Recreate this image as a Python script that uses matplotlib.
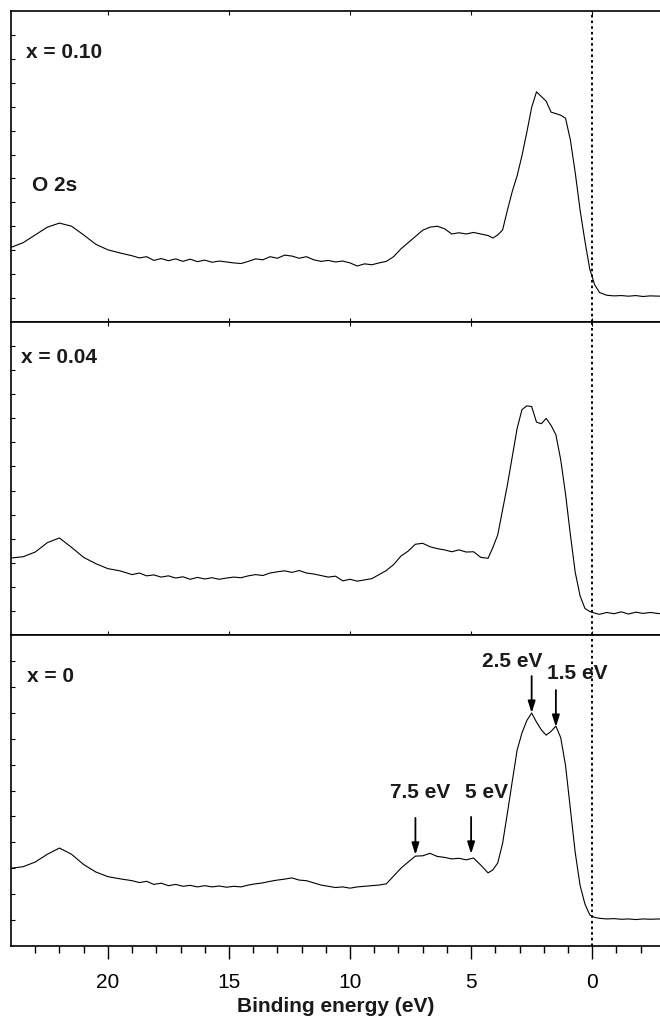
import numpy as np
import matplotlib
matplotlib.use('Agg')
import matplotlib.pyplot as plt

plt.rcParams['font.family'] = ['Liberation Sans', 'DejaVu Sans']

# binding energy grid (eV), shared by the three spectra
energy = [24.0, 23.5, 23.0, 22.5, 22.0, 21.5, 21.0, 20.5, 20.0, 19.5, 19.0,
          18.7, 18.4, 18.1, 17.8, 17.5, 17.2, 16.9, 16.6, 16.3, 16.0,
          15.7, 15.4, 15.1, 14.8, 14.5, 14.2, 13.9, 13.6, 13.3, 13.0,
          12.7, 12.4, 12.1, 11.8, 11.5, 11.2, 10.9, 10.6, 10.3, 10.0,
          9.7, 9.4, 9.1, 8.8, 8.5, 8.2, 7.9, 7.6, 7.3, 7.0,
          6.7, 6.4, 6.1, 5.8, 5.5, 5.2, 4.9, 4.6, 4.3, 4.1,
          3.9, 3.7, 3.5, 3.3, 3.1, 2.9, 2.7, 2.5, 2.3, 2.1,
          1.9, 1.7, 1.5, 1.3, 1.1, 0.9, 0.7, 0.5, 0.3, 0.1,
          -0.1, -0.3, -0.6, -0.9, -1.2, -1.5, -1.8, -2.1, -2.4, -2.8]

# intensities (arb. units, 0-100 per panel)
x010 = [24.0, 25.5, 28.0, 30.5, 31.8, 30.8, 28.0, 25.0, 23.2, 22.2, 21.3,
        20.6, 21.0, 19.8, 20.4, 19.7, 20.3, 19.5, 20.2, 19.4, 19.9,
        19.2, 19.6, 19.3, 19.0, 18.8, 19.5, 20.3, 20.0, 21.0, 20.5,
        21.5, 21.2, 20.5, 21.0, 20.0, 19.5, 19.8, 19.3, 19.6, 19.0,
        18.0, 18.7, 18.4, 19.0, 19.5, 21.0, 23.5, 25.5, 27.5, 29.5,
        30.5, 30.8, 30.0, 28.3, 28.7, 28.3, 28.8, 28.3, 27.8, 27.0,
        28.0, 29.6, 36.0, 42.0, 47.0, 53.5, 61.0, 69.0, 74.0, 72.5,
        71.0, 67.5, 67.0, 66.5, 65.5, 58.5, 48.0, 36.0, 26.0, 17.0,
        12.0, 9.5, 8.6, 8.4, 8.5, 8.3, 8.5, 8.2, 8.4, 8.3]

x004 = [24.6, 25.0, 26.5, 29.5, 31.0, 28.0, 24.8, 22.8, 21.2, 20.5, 19.3,
        19.8, 18.9, 19.2, 18.5, 18.9, 18.2, 18.6, 17.8, 18.4, 17.9,
        18.3, 17.8, 18.2, 18.5, 18.3, 18.9, 19.3, 19.0, 19.8, 20.2,
        20.5, 20.0, 20.6, 19.8, 19.5, 19.0, 18.5, 18.8, 17.3, 17.8,
        17.2, 17.6, 18.0, 19.3, 20.6, 22.5, 25.2, 26.8, 29.0, 29.3,
        28.2, 27.6, 27.2, 26.6, 27.2, 26.5, 26.6, 24.8, 24.5, 28.0,
        32.0, 40.0, 48.0, 57.0, 66.0, 72.0, 73.2, 73.0, 68.0, 67.5,
        69.2, 67.0, 64.0, 56.0, 45.0, 32.0, 20.0, 12.5, 8.5, 7.5,
        7.0, 6.6, 7.2, 6.8, 7.4, 6.7, 7.3, 6.9, 7.2, 6.8]

x000 = [25.0, 25.5, 27.0, 29.5, 31.5, 29.5, 26.2, 23.8, 22.3, 21.6, 21.0,
        20.4, 20.8, 19.8, 20.2, 19.4, 19.8, 19.2, 19.5, 19.0, 19.4,
        19.0, 19.3, 18.9, 19.2, 19.0, 19.6, 20.0, 20.3, 20.8, 21.2,
        21.5, 21.9, 21.2, 21.0, 20.3, 19.6, 19.2, 18.8, 19.0, 18.6,
        19.0, 19.2, 19.4, 19.6, 20.0, 22.5, 25.0, 27.0, 28.9, 29.0,
        29.8, 28.8, 28.5, 28.0, 28.2, 27.7, 28.3, 26.0, 23.5, 24.5,
        26.7, 33.0, 42.8, 53.0, 63.0, 68.5, 72.5, 74.9, 72.0, 69.5,
        67.8, 69.0, 70.7, 67.0, 58.0, 44.0, 30.0, 19.5, 13.5, 10.0,
        9.2, 8.9, 8.7, 8.8, 8.6, 8.7, 8.5, 8.7, 8.6, 8.7]

labels = ['x = 0.10', 'x = 0.04', 'x = 0']
spectra = [x010, x004, x000]
label_pos = [(23.4, 86.5), (23.6, 88.5), (23.35, 86.5)]
n_yticks = [13, 13, 12]

# peak markers for x = 0: (label, text x, text y, arrow x, arrow top, arrow tip)
peaks = [('2.5 eV', 3.3, 91.6, 2.5, 86.8, 74.9),
         ('1.5 eV', 0.6, 87.5, 1.5, 82.3, 70.4),
         ('7.5 eV', 7.1, 49.5, 7.3, 41.2, 29.3),
         ('5 eV', 4.35, 49.2, 5.0, 41.5, 29.6)]

fig = plt.figure(figsize=(6.6, 10.21), dpi=100)
left, width = 11 / 660, 1 - 11 / 660
panel_px = [(11, 322), (322, 635), (635, 946)]

axes = []
for i, (top_px, bot_px) in enumerate(panel_px):
    ax = fig.add_axes([left, 1 - bot_px / 1021, width, (bot_px - top_px) / 1021])
    ax.plot(energy, spectra[i], color='black', lw=0.8)
    ax.axvline(0, color='black', lw=1.4, linestyle=(0, (1.3, 1.6)))
    ax.set_xlim(24, -2.8)
    ax.set_ylim(0, 100)
    ax.set_yticks(np.linspace(0, 100, n_yticks[i] + 1)[1:-1])
    ax.tick_params(axis='y', direction='in', length=3, width=0.8, labelleft=False)
    ax.spines['right'].set_visible(False)
    for s in ['left', 'top', 'bottom']:
        ax.spines[s].set_linewidth(1.2)
    ax.set_xticks([20, 15, 10, 5, 0])
    ax.text(label_pos[i][0], label_pos[i][1], labels[i], fontsize=15,
            fontweight='bold', va='center', ha='left', color='#1a1a1a')
    axes.append(ax)

for ax in axes[:2]:
    ax.tick_params(axis='x', which='major', direction='in', length=3, width=0.8,
                   top=True, bottom=True, labelbottom=False)

axb = axes[2]
axb.set_xticks(np.arange(-2, 24, 1), minor=True)
axb.tick_params(axis='x', which='major', direction='out', length=9.5, width=1.0,
                labelsize=15, pad=10)
axb.tick_params(axis='x', which='minor', direction='out', length=5, width=1.0)

axes[0].text(23.13, 44, 'O 2s', fontsize=15, fontweight='bold', va='center',
             ha='left', color='#1a1a1a')

for lab, tx, ty, ax_x, a_top, a_tip in peaks:
    axb.text(tx, ty, lab, fontsize=15, fontweight='bold', ha='center', va='center',
             color='#1a1a1a')
    axb.annotate('', xy=(ax_x, a_tip), xytext=(ax_x, a_top),
                 arrowprops=dict(arrowstyle='-|>,head_length=0.7,head_width=0.22',
                                 color='black', lw=1.3, shrinkA=0, shrinkB=0))

fig.text(0.508, 0.0145, 'Binding energy (eV)', fontsize=15, fontweight='bold',
         ha='center', va='center', color='#1a1a1a')

fig.savefig('out.png', dpi=100)
